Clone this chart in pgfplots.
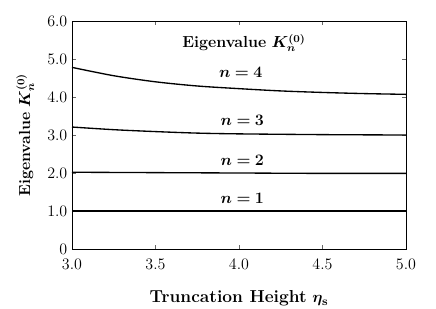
\documentclass[border=0pt]{standalone}
\usepackage{pgfplots}
\pgfplotsset{compat=1.18}
\usepackage{bm}
\begin{document}
\begin{tikzpicture}[x=0.75pt,y=0.75pt]
\useasboundingbox (-72,-59) rectangle (364,249);
\begin{axis}[
  at={(0,0)}, anchor=south west,
  scale only axis,
  width=250.5pt, height=171pt,
  xmin=3.0, xmax=5.0, ymin=0, ymax=6,
  xtick={3.0,3.5,4.0,4.5,5.0},
  xticklabels={3.0,3.5,4.0,4.5,5.0},
  ytick={0,1,2,3,4,5,6},
  yticklabels={0,1.0,2.0,3.0,4.0,5.0,6.0},
  ticklabel style={font=\fontsize{12}{14}\selectfont},
  xticklabel style={yshift=-4pt},
  tick style={black!60, thin},
  major tick length=3pt,
  axis line style={black, thin},
  xlabel={\textbf{Truncation Height} $\bm{\eta}_{\mathbf{s}}$},
  ylabel={\textbf{Eigenvalue} $\bm{K_n^{(0)}}$},
  xlabel style={font=\fontsize{13}{15}\selectfont, yshift=-8.5pt},
  ylabel style={font=\fontsize{12}{14}\selectfont, yshift=3pt},
  clip=false,
]
\addplot[black, line width=1pt, smooth] coordinates {
(3.0,4.78) (3.25,4.56) (3.5,4.40) (3.75,4.29) (4.0,4.22) (4.25,4.16) (4.5,4.12) (4.75,4.09) (5.0,4.07)};
\addplot[black, line width=1pt, smooth] coordinates {
(3.0,3.21) (3.25,3.14) (3.5,3.09) (3.75,3.05) (4.0,3.03) (4.5,3.01) (5.0,3.00)};
\addplot[black, line width=1pt, smooth] coordinates {
(3.0,2.02) (3.5,2.01) (4.0,2.00) (4.5,1.99) (5.0,1.99)};
\addplot[black, line width=1pt] coordinates {
(3.0,1.0) (5.0,1.0)};
\node[font=\fontsize{12}{14}\selectfont] at (axis cs:4.03,5.42) {\textbf{Eigenvalue} $\bm{K_n^{(0)}}$};
\node[font=\fontsize{12.5}{14}\selectfont] at (axis cs:4.01,4.66) {$\bm{n=4}$};
\node[font=\fontsize{12.5}{14}\selectfont] at (axis cs:4.02,3.39) {$\bm{n=3}$};
\node[font=\fontsize{12.5}{14}\selectfont] at (axis cs:4.02,2.34) {$\bm{n=2}$};
\node[font=\fontsize{12.5}{14}\selectfont] at (axis cs:4.02,1.34) {$\bm{n=1}$};
\end{axis}
\end{tikzpicture}
\end{document}
